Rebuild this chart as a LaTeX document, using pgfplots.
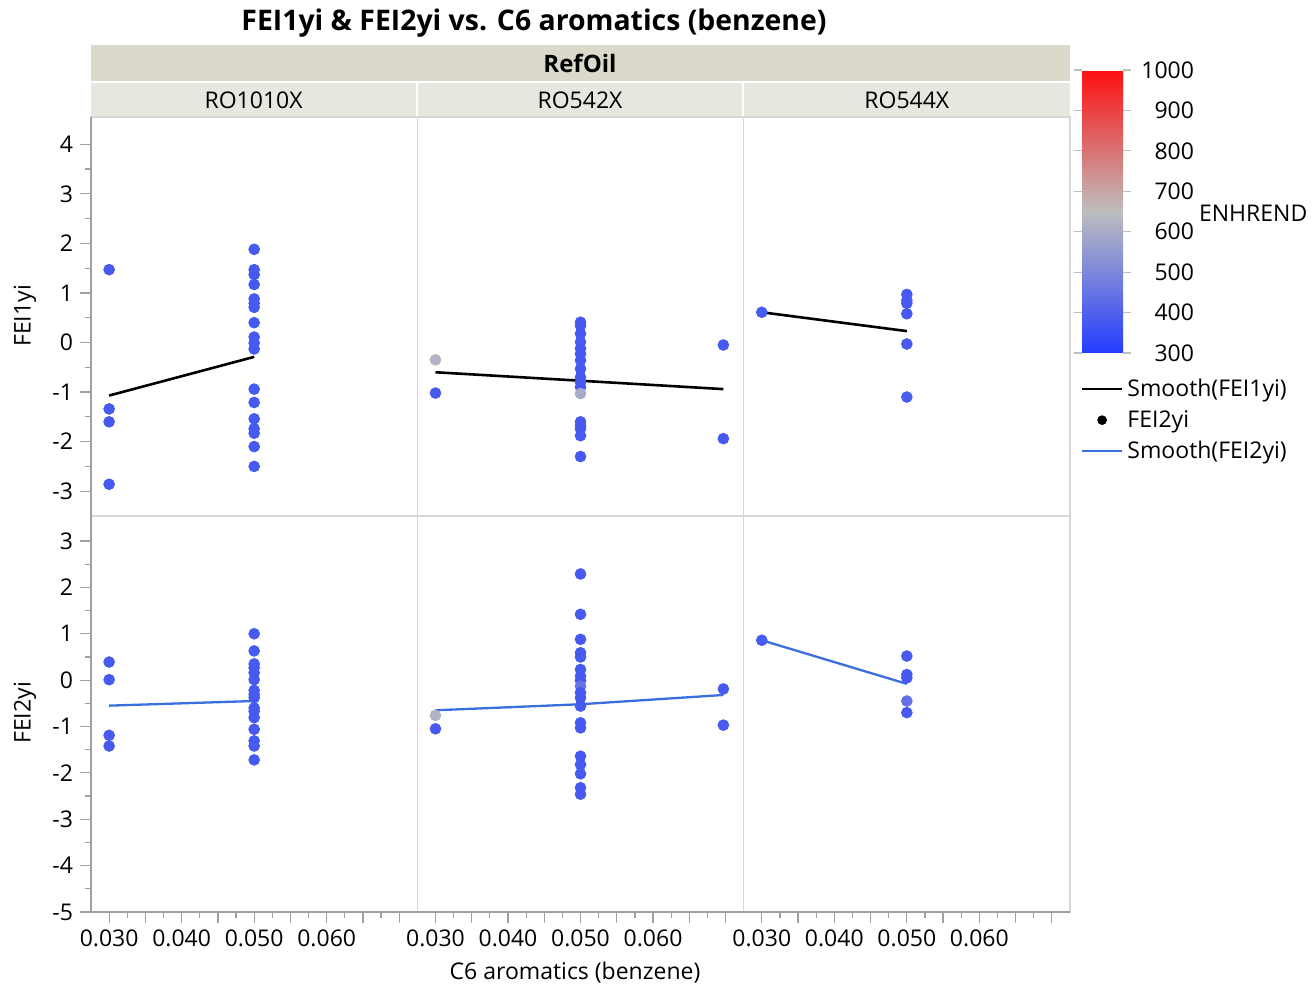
\documentclass[border=0pt]{standalone}
\usepackage{fontspec}
\setmainfont{Open Sans}
\usepackage{pgfplots}
\pgfplotsset{compat=1.18}

\definecolor{stripA}{RGB}{219,217,203}
\definecolor{stripB}{RGB}{231,231,223}
\definecolor{frameC}{RGB}{215,215,215}
\definecolor{axisC}{RGB}{160,160,160}
\definecolor{fei2}{RGB}{58,110,222}

\newcommand{\lf}{\fontsize{11.5}{13.5}\selectfont}

\pgfplotsset{
  colormap={jmp}{rgb255=(35,60,255) rgb255=(190,190,190) rgb255=(255,15,15)},
  panel/.style={
    scale only axis, width=163.17pt,
    xmin=0.0275, xmax=0.0725,
    scaled x ticks=false, scaled y ticks=false,
    point meta min=300, point meta max=1000,
    axis line style={draw=frameC, line width=0.6pt},
    tick align=outside,
    tick style={draw=axisC, line width=0.6pt},
    major tick length=5.5pt, minor tick length=3pt,
    xtick=\empty, ytick=\empty,
    tick pos=left,
    minor tick num=1,
    ticklabel style={font=\lf},
    anchor=north west,
  },
  dots/.style={scatter, only marks, mark=*, mark size=2.7pt, scatter src=explicit, forget plot,
    scatter/use mapped color={draw=mapped color, fill=mapped color}},
  sm1/.style={black, line width=1.3pt, forget plot, mark=none},
  sm2/.style={fei2, line width=1.15pt, forget plot, mark=none},
  toprow/.style={height=199.5pt, ymin=-3.5, ymax=4.55},
  botrow/.style={height=198pt, ymin=-5, ymax=3.54,
    xtick={0.03,0.035,0.04,0.045,0.05,0.055,0.06,0.065,0.07},
    xticklabels={0.030,,0.040,,0.050,,0.060,,},
  },
  leglineK/.style={legend image code/.code={\draw[black, line width=1.3pt] (0pt,0pt) -- (20pt,0pt);}},
  leglineB/.style={legend image code/.code={\draw[fei2, line width=1.15pt] (0pt,0pt) -- (20pt,0pt);}},
  legdot/.style={legend image code/.code={\fill[black] (10pt,0pt) circle (2.2pt);}},
}

\begin{document}
\begin{tikzpicture}
\useasboundingbox (0pt,0pt) rectangle (656pt,-494pt);

% title and strips
\node[font=\fontsize{14.2}{16}\selectfont\bfseries] at (267pt,-11.5pt) {FEI1yi \& FEI2yi vs. C6 aromatics (benzene)};
\fill[stripA] (45.5pt,-22.5pt) rectangle (535pt,-40.5pt);
\node[font=\fontsize{12}{14}\selectfont\bfseries] at (290pt,-31.5pt) {RefOil};
\fill[stripB] (45.5pt,-41.5pt) rectangle (208pt,-58.5pt);
\fill[stripB] (209pt,-41.5pt) rectangle (371pt,-58.5pt);
\fill[stripB] (372pt,-41.5pt) rectangle (535pt,-58.5pt);
\node[font=\lf] at (126.8pt,-50pt) {RO1010X};
\node[font=\lf] at (290pt,-50pt) {RO542X};
\node[font=\lf] at (453.4pt,-50pt) {RO544X};

% ---------- top row: FEI1yi ----------
\begin{axis}[panel, toprow, at={(45.5pt,-58.5pt)},
  ytick={-3,-2,-1,0,1,2,3,4}, yticklabels={-3,-2,-1,0,1,2,3,4}]
\addplot[dots] table[meta=c] {
x y c
0.030 1.47 380
0.030 -1.34 380
0.030 -1.60 380
0.030 -2.86 380
0.050 1.88 380
0.050 1.47 380
0.050 1.37 380
0.050 1.17 380
0.050 0.88 380
0.050 0.79 380
0.050 0.71 380
0.050 0.40 380
0.050 0.11 380
0.050 -0.01 380
0.050 -0.13 380
0.050 -0.94 380
0.050 -1.21 380
0.050 -1.54 380
0.050 -1.74 380
0.050 -1.83 380
0.050 -2.10 380
0.050 -2.50 380
};
\addplot[sm1] coordinates {(0.030,-1.07) (0.050,-0.29)};
\end{axis}

\begin{axis}[panel, toprow, at={(208.67pt,-58.5pt)}]
\addplot[dots] table[meta=c] {
x y c
0.030 -0.35 620
0.030 -1.02 380
0.050 0.41 380
0.050 0.34 380
0.050 0.18 380
0.050 0.01 380
0.050 -0.12 380
0.050 -0.23 380
0.050 -0.36 380
0.050 -0.53 380
0.050 -0.70 380
0.050 -0.80 380
0.050 -0.90 380
0.050 -1.03 600
0.050 -1.60 380
0.050 -1.67 380
0.050 -1.74 380
0.050 -1.88 380
0.050 -2.30 380
0.0697 -0.05 380
0.0697 -1.94 380
};
\addplot[sm1] coordinates {(0.030,-0.60) (0.0697,-0.94)};
\end{axis}

\begin{axis}[panel, toprow, at={(371.83pt,-58.5pt)},
  colorbar, colorbar/width=20.5pt,
  colorbar style={
    at={(parent axis.north east)}, anchor=north west, xshift=-2.5pt, yshift=23.5pt,
    scale only axis, width=20.5pt, height=141.5pt,
    axis line style={draw=none},
    ytick={300,400,500,600,700,800,900,1000},
    yticklabels={300,400,500,600,700,800,900,1000},
    tick align=outside, major tick length=4pt,
    ytick style={draw=gray!50, line width=0.6pt},
    yticklabel style={font=\lf, anchor=east, xshift=35pt},
  },
  legend style={at={(1.032,0.355)}, anchor=north west, draw=none, fill=none,
    inner sep=0pt, font=\lf, row sep=1.5pt, legend cell align=left},
]
\addlegendimage{leglineK}
\addlegendentry{Smooth(FEI1yi)}
\addlegendimage{legdot}
\addlegendentry{FEI2yi}
\addlegendimage{leglineB}
\addlegendentry{Smooth(FEI2yi)}
\addplot[dots] table[meta=c] {
x y c
0.030 0.61 380
0.050 0.97 380
0.050 0.85 380
0.050 0.79 380
0.050 0.58 380
0.050 -0.03 380
0.050 -1.10 390
};
\addplot[sm1] coordinates {(0.030,0.61) (0.050,0.23)};
\end{axis}

% ---------- bottom row: FEI2yi ----------
\begin{axis}[panel, botrow, at={(45.5pt,-258pt)},
  ytick={-5,-4,-3,-2,-1,0,1,2,3}, yticklabels={-5,-4,-3,-2,-1,0,1,2,3}]
\addplot[dots] table[meta=c] {
x y c
0.030 0.39 380
0.030 0.01 380
0.030 -1.19 380
0.030 -1.42 380
0.050 1.00 380
0.050 0.63 380
0.050 0.35 380
0.050 0.27 380
0.050 0.16 380
0.050 0.01 380
0.050 -0.22 380
0.050 -0.31 380
0.050 -0.38 380
0.050 -0.60 380
0.050 -0.67 380
0.050 -0.81 380
0.050 -1.06 380
0.050 -1.31 380
0.050 -1.42 380
0.050 -1.72 380
};
\addplot[sm2] coordinates {(0.030,-0.55) (0.050,-0.45)};
\end{axis}

\begin{axis}[panel, botrow, at={(208.67pt,-258pt)}]
\addplot[dots] table[meta=c] {
x y c
0.030 -0.76 620
0.030 -1.05 380
0.050 2.29 380
0.050 1.42 380
0.050 0.88 380
0.050 0.59 380
0.050 0.50 380
0.050 0.23 380
0.050 0.09 380
0.050 -0.01 380
0.050 -0.13 450
0.050 -0.27 380
0.050 -0.38 380
0.050 -0.56 380
0.050 -0.92 380
0.050 -1.03 380
0.050 -1.64 380
0.050 -1.82 380
0.050 -2.02 380
0.050 -2.32 380
0.050 -2.46 380
0.0697 -0.19 380
0.0697 -0.97 380
};
\addplot[sm2] coordinates {(0.030,-0.65) (0.050,-0.52) (0.0697,-0.32)};
\end{axis}

\begin{axis}[panel, botrow, at={(371.83pt,-258pt)}]
\addplot[dots] table[meta=c] {
x y c
0.030 0.86 380
0.050 0.52 380
0.050 0.12 380
0.050 0.05 380
0.050 -0.45 440
0.050 -0.70 380
};
\addplot[sm2] coordinates {(0.030,0.86) (0.050,-0.08)};
\end{axis}

% darker outer axis lines
\draw[axisC, line width=0.7pt] (45.5pt,-58.5pt) -- (45.5pt,-456pt) -- (535pt,-456pt);

% axis labels
\node[font=\lf] at (287.5pt,-486.5pt) {C6 aromatics (benzene)};
\node[font=\lf, rotate=90] at (12.5pt,-158pt) {FEI1yi};
\node[font=\lf, rotate=90] at (12.5pt,-356.5pt) {FEI2yi};
\node[font=\lf, anchor=west] at (596pt,-106.5pt) {ENHREND};
\end{tikzpicture}
\end{document}
